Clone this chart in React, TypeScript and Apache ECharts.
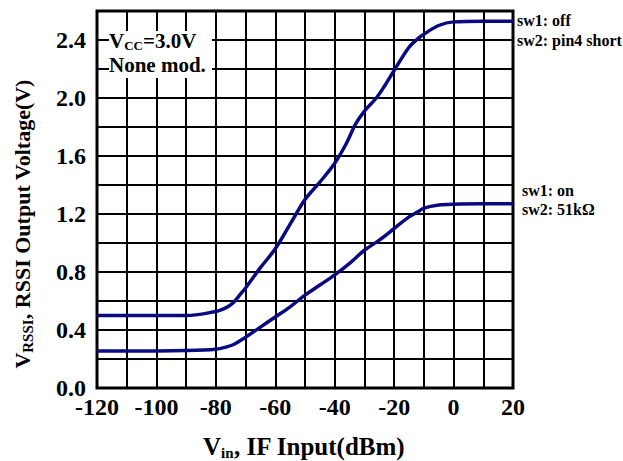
import React, { useEffect, useRef } from "react";
import * as echarts from "echarts";

const upperX = [-120, -100, -90, -80, -78, -76, -74, -72, -70, -65, -60, -55, -50, -45, -40, -36, -33, -30, -26, -23, -20, -15, -12, -10, -5, 0, 10, 20];
const upperY = [0.50, 0.50, 0.50, 0.527, 0.54, 0.56, 0.592, 0.64, 0.69, 0.83, 0.96, 1.13, 1.30, 1.42, 1.55, 1.69, 1.82, 1.91, 2.00, 2.09, 2.19, 2.35, 2.41, 2.44, 2.50, 2.525, 2.53, 2.53];
const lowerX = [-120, -100, -90, -80, -77, -74, -70, -65, -60, -55, -50, -45, -40, -35, -30, -25, -20, -15, -12, -10, -5, 0, 10, 20];
const lowerY = [0.255, 0.255, 0.258, 0.268, 0.28, 0.30, 0.35, 0.42, 0.49, 0.56, 0.64, 0.71, 0.78, 0.86, 0.95, 1.02, 1.10, 1.18, 1.215, 1.24, 1.262, 1.268, 1.27, 1.27];

const FONT = "Liberation Serif";
const LINE = "#0a0a80";

export default function App() {
  const ref = useRef<HTMLDivElement>(null);
  useEffect(() => {
    const chart = echarts.init(ref.current!, null, { renderer: "svg" });
    const upper = upperX.map((x, i) => [x, upperY[i]]);
    const lower = lowerX.map((x, i) => [x, lowerY[i]]);
    const txt = (text: string, x: number, y: number, size: number) => ({
      type: "text", x, y, z: 101,
      style: { text, fontFamily: FONT, fontWeight: "bold", fontSize: size, fill: "#000", verticalAlign: "middle" },
    });
    chart.setOption({
      animation: false,
      backgroundColor: "#fff",
      grid: { left: 97, right: 110, top: 11, bottom: 73, show: true, borderColor: "#000", borderWidth: 3, backgroundColor: "transparent" },
      xAxis: {
        type: "value", min: -120, max: 20, interval: 10,
        axisLine: { show: false }, axisTick: { show: false },
        splitLine: { show: true, lineStyle: { color: "#000", width: 2 } },
        axisLabel: {
          fontFamily: FONT, fontWeight: "bold", fontSize: 24, color: "#000", margin: 7,
          formatter: (v: number) => (Math.round(v) % 20 === 0 ? String(Math.round(v)) : ""),
        },
      },
      yAxis: {
        type: "value", min: 0, max: 2.6, interval: 0.2,
        axisLine: { show: false }, axisTick: { show: false },
        splitLine: { show: true, lineStyle: { color: "#000", width: 2 } },
        axisLabel: {
          fontFamily: FONT, fontWeight: "bold", fontSize: 24, color: "#000", margin: 11,
          formatter: (v: number) => {
            const k = Math.round(v * 10);
            return k % 4 === 0 && k <= 24 ? (k / 10).toFixed(1) : "";
          },
        },
      },
      series: [
        { type: "line", data: upper, smooth: 0.35, symbol: "none", lineStyle: { color: LINE, width: 3.5 }, z: 5 },
        { type: "line", data: lower, smooth: 0.35, symbol: "none", lineStyle: { color: LINE, width: 3.5 }, z: 5 },
      ],
      graphic: [
        { type: "rect", z: 100, shape: { x: 109, y: 31, width: 103, height: 47 }, style: { fill: "#fff" } },
        {
          type: "text", z: 101, x: 109, y: 41,
          style: {
            text: "{a|V}{s|CC}{a|=3.0V}", verticalAlign: "middle",
            rich: {
              a: { fontFamily: FONT, fontWeight: "bold", fontSize: 21, fill: "#000", lineHeight: 22 },
              s: { fontFamily: FONT, fontWeight: "bold", fontSize: 13, fill: "#000", padding: [8, 0, 0, 0], lineHeight: 14 },
            },
          },
        },
        txt("None mod.", 109, 65, 21),
        txt("sw1: off", 517, 20, 16),
        txt("sw2: pin4 short", 517, 40, 16),
        txt("sw1: on", 522, 190, 16),
        txt("sw2: 51kΩ", 522, 209, 16),
        {
          type: "text", x: 304, y: 446,
          style: {
            text: "{a|V}{s|in}{a|, IF Input(dBm)}", align: "center", verticalAlign: "middle",
            rich: {
              a: { fontFamily: FONT, fontWeight: "bold", fontSize: 25, fill: "#000" },
              s: { fontFamily: FONT, fontWeight: "bold", fontSize: 15, fill: "#000", padding: [14, 0, 0, 0] },
            },
          },
        },
        {
          type: "text", x: 22, y: 224, rotation: Math.PI / 2,
          style: {
            text: "{a|V}{s|RSSI}{a|, RSSI Output Voltage(V)}", align: "center", verticalAlign: "middle",
            rich: {
              a: { fontFamily: FONT, fontWeight: "bold", fontSize: 22, fill: "#000" },
              s: { fontFamily: FONT, fontWeight: "bold", fontSize: 15, fill: "#000", padding: [12, 0, 0, 0] },
            },
          },
        },
      ],
    });
    return () => chart.dispose();
  }, []);
  return <div ref={ref} style={{ width: 623, height: 461, position: "absolute", left: 0, top: 0 }} />;
}
